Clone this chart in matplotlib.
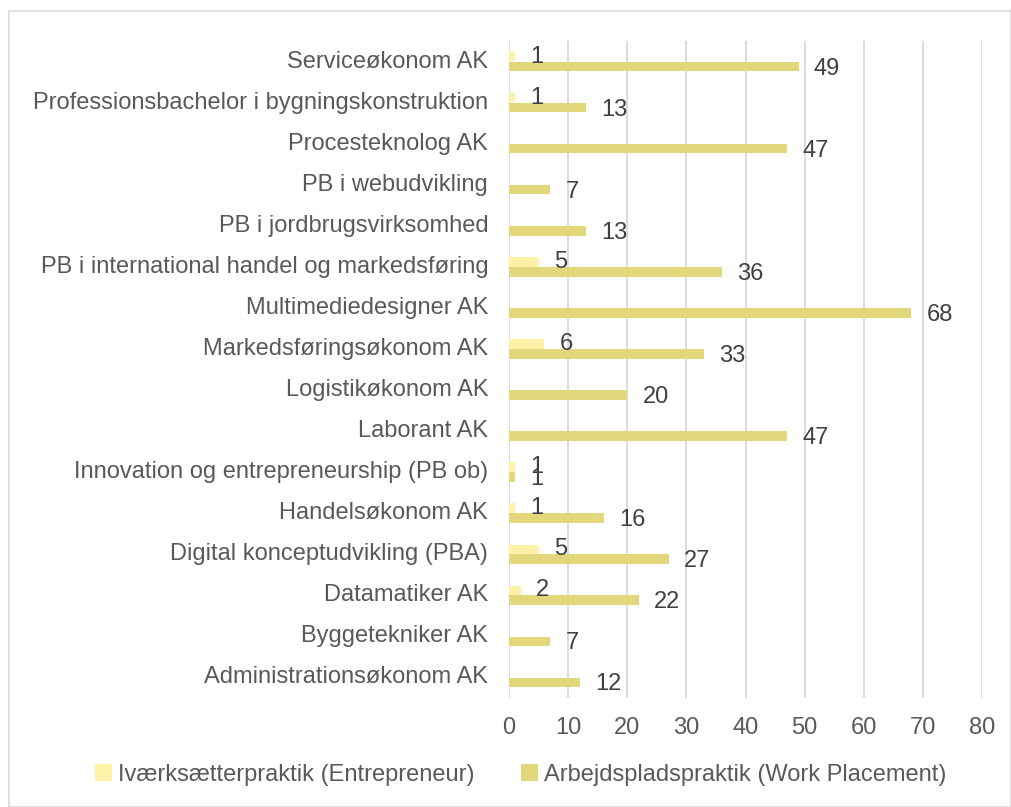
import matplotlib
matplotlib.use("Agg")
import matplotlib.pyplot as plt
import numpy as np
from matplotlib.patches import Rectangle

plt.rcParams['font.family'] = ['Liberation Sans', 'DejaVu Sans']

# Categories listed top to bottom as in the chart
categories = [
    "Serviceøkonom AK",
    "Professionsbachelor i bygningskonstruktion",
    "Procesteknolog AK",
    "PB i webudvikling",
    "PB i jordbrugsvirksomhed",
    "PB i international handel og markedsføring",
    "Multimediedesigner AK",
    "Markedsføringsøkonom AK",
    "Logistikøkonom AK",
    "Laborant AK",
    "Innovation og entrepreneurship (PB ob)",
    "Handelsøkonom AK",
    "Digital konceptudvikling (PBA)",
    "Datamatiker AK",
    "Byggetekniker AK",
    "Administrationsøkonom AK",
]
entrepreneur = [1, 1, None, None, None, 5, None, 6, None, None, 1, 1, 5, 2, None, None]
work_placement = [49, 13, 47, 7, 13, 36, 68, 33, 20, 47, 1, 16, 27, 22, 7, 12]
series_names = ["Iværksætterpraktik (Entrepreneur)", "Arbejdspladspraktik (Work Placement)"]
xticks = [0, 10, 20, 30, 40, 50, 60, 70, 80]

light = "#FFF2A6"
dark = "#E3D77C"

fig = plt.figure(figsize=(10.11, 8.07), dpi=100)
ax = fig.add_axes([509/1011, 1-698/807, (982-509)/1011, (698-41)/807])

n = len(categories)
y = np.arange(n)[::-1].astype(float)
h = 0.235
off = 0.12

e_vals = np.array([np.nan if v is None else v for v in entrepreneur], dtype=float)
w_vals = np.array(work_placement, dtype=float)

ax.barh(y + off, np.nan_to_num(e_vals), height=h, color=light, label=series_names[0], zorder=3)
ax.barh(y - off, w_vals, height=h, color=dark, label=series_names[1], zorder=3)

for yi, v in zip(y, e_vals):
    if not np.isnan(v):
        ax.annotate(f"{int(v)}", (v, yi + off), xytext=(11, 0), textcoords="offset points",
                    ha="left", va="center", fontsize=17, color="#404040", zorder=4)
for yi, v in zip(y, w_vals):
    ax.annotate(f"{int(v)}", (v, yi - off), xytext=(11, -1.5), textcoords="offset points",
                ha="left", va="center", fontsize=17, color="#404040", zorder=4)

ax.set_xlim(0, 80)
ax.set_ylim(-0.5, n - 0.5)
ax.set_xticks(xticks)
ax.set_xticklabels([str(t) for t in xticks])
ax.set_yticks(y)
ax.set_yticklabels(categories)
ax.tick_params(axis='x', length=0, pad=14, labelsize=17, labelcolor="#595959")
ax.tick_params(axis='y', length=0, pad=15, labelsize=17, labelcolor="#595959")
for lbl in ax.get_yticklabels():
    lbl.set_va('center')
for s in ax.spines.values():
    s.set_visible(False)
ax.xaxis.grid(True, color="#D9D9D9", linewidth=1.3, zorder=0)
ax.set_axisbelow(True)

leg = fig.legend(loc="center", bbox_to_anchor=(0.515, 1-775/807), ncol=2, frameon=False,
                 fontsize=17, handlelength=0.7, handleheight=0.7, handletextpad=0.25,
                 columnspacing=2.0, labelcolor="#595959")

fig.patches.append(Rectangle((9/1011, 0), 1 - 9/1011 - 0.5/1011, 1 - 11/807, transform=fig.transFigure,
                             fill=False, edgecolor="#D9D9D9", linewidth=1.2, zorder=0))

fig.savefig("out.png", dpi=100, facecolor="white")
